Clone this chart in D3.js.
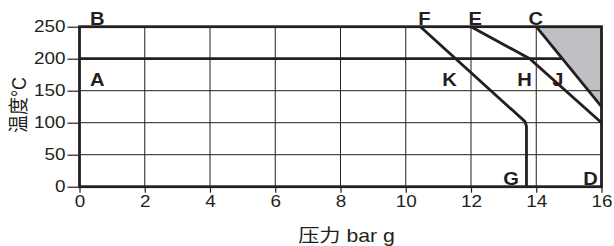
<!DOCTYPE html>
<html>
<head>
<meta charset="utf-8">
<script src="https://cdn.jsdelivr.net/npm/d3@7"></script>
<style>
  body { margin: 0; background: #fff; }
  svg text { font-family: "Liberation Sans", Arial, "Noto Sans CJK SC", sans-serif; fill: #231f20; }
</style>
</head>
<body>
<svg id="chart" width="614" height="246"></svg>
<script>
// axis ticks
var xTicks = [0, 2, 4, 6, 8, 10, 12, 14, 16];
var yTicks = [0, 50, 100, 150, 200, 250];

// boundary curves [pressure, temp]
var lineF = [[10.45, 250], [13.65, 102], [13.7, 95], [13.7, 0]];
var lineE = [[12, 250], [13.8, 200], [16, 100]];
var lineC = [[14, 250], [16, 125]];
var line200 = [[0, 200], [14.8, 200]];
var shaded = [[14, 250], [16, 250], [16, 125]];

// region letters (left edge, baseline)
var labels = [
  {t: "B", x: 0.32, y: 253},
  {t: "A", x: 0.32, y: 157},
  {t: "F", x: 10.38, y: 253},
  {t: "E", x: 11.92, y: 253},
  {t: "C", x: 13.76, y: 253},
  {t: "K", x: 11.12, y: 157},
  {t: "H", x: 13.42, y: 157},
  {t: "J", x: 14.49, y: 157},
  {t: "G", x: 12.99, y: 2.5},
  {t: "D", x: 15.44, y: 2.5}
];

var sx = 1.18; // the source art is a bit wide
var svg = d3.select("#chart");
var x = d3.scaleLinear().domain([0, 16]).range([79.5, 601.5]);
var y = d3.scaleLinear().domain([0, 250]).range([186.7, 26.7]);
var line = d3.line().x(function(d){ return x(d[0]); }).y(function(d){ return y(d[1]); });

// shaded triangle
svg.append("path").attr("d", line(shaded) + "Z").attr("fill", "#bfc0c4");

// grid
svg.append("g").selectAll("line").data(xTicks.slice(1, -1)).enter().append("line")
  .attr("x1", function(d){ return x(d); }).attr("x2", function(d){ return x(d); })
  .attr("y1", y(0)).attr("y2", y(250))
  .attr("stroke", "#231f20").attr("stroke-width", 1);
svg.append("g").selectAll("line").data([50, 100, 150]).enter().append("line")
  .attr("x1", x(0)).attr("x2", x(16))
  .attr("y1", function(d){ return y(d); }).attr("y2", function(d){ return y(d); })
  .attr("stroke", "#231f20").attr("stroke-width", 1);

// axes
var xAxis = svg.append("g").attr("transform", "translate(0," + y(0) + ")")
  .call(d3.axisBottom(x).tickValues(xTicks).tickSize(6).tickPadding(3));
var yAxis = svg.append("g").attr("transform", "translate(" + x(0) + ",0)")
  .call(d3.axisLeft(y).tickValues(yTicks).tickSize(12).tickPadding(2));
[xAxis, yAxis].forEach(function(a){
  a.select(".domain").remove();
  a.selectAll("line").attr("stroke", "#231f20").attr("stroke-width", 1.2);
  a.selectAll("text").attr("font-size", 16).attr("font-family", null).attr("fill", "#231f20")
    .attr("transform", "scale(" + sx + ",1)");
});
yAxis.selectAll("text").attr("x", -14 / sx);

// thick boundaries
var thick = [line200, lineF, lineE, lineC];
svg.append("g").selectAll("path").data(thick).enter().append("path")
  .attr("d", line).attr("fill", "none")
  .attr("stroke", "#231f20").attr("stroke-width", 2.8).attr("stroke-linejoin", "miter");
svg.append("rect")
  .attr("x", x(0)).attr("y", y(250))
  .attr("width", x(16) - x(0)).attr("height", y(0) - y(250))
  .attr("fill", "none").attr("stroke", "#231f20").attr("stroke-width", 2.8);

// letters
svg.append("g").selectAll("text").data(labels).enter().append("text")
  .attr("transform", function(d){ return "translate(" + x(d.x) + "," + y(d.y) + ") scale(1.12,1)"; })
  .attr("font-size", 18).attr("font-weight", "bold")
  .text(function(d){ return d.t; });

// titles
svg.append("text").attr("transform", "translate(346.5,242) scale(" + sx + ",1)")
  .attr("text-anchor", "middle").attr("font-size", 18)
  .text("压力 bar g");
svg.append("text").attr("transform", "translate(26,105) rotate(-90) scale(1,1.12)")
  .attr("text-anchor", "middle").attr("font-size", 18)
  .text("温度°C");
</script>
</body>
</html>
